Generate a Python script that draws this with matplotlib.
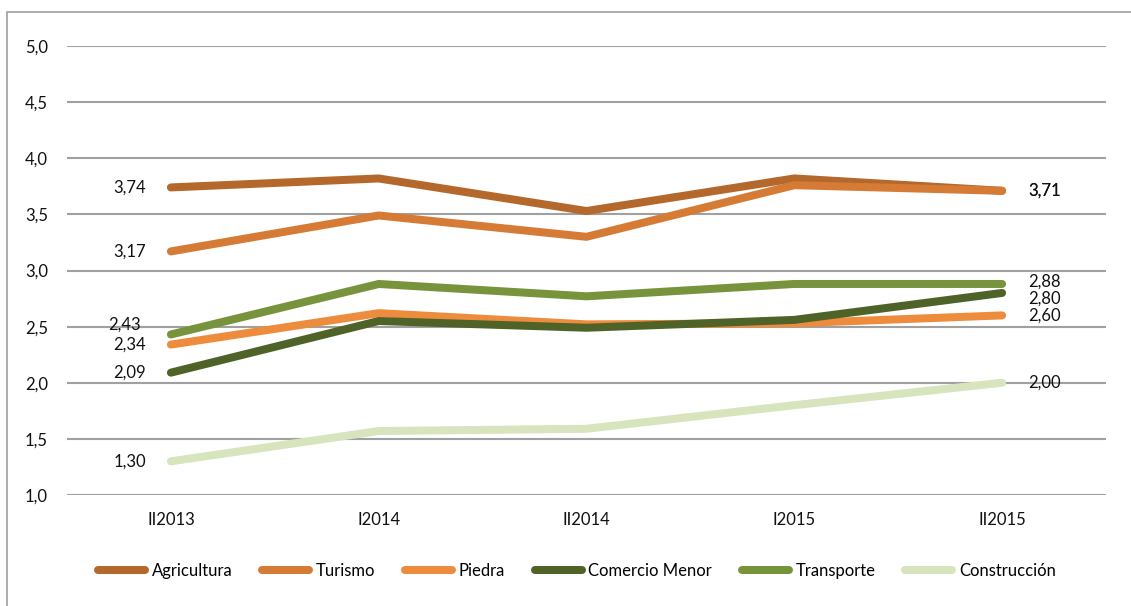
import matplotlib
matplotlib.use("Agg")
import matplotlib.pyplot as plt
from matplotlib.patches import Rectangle

periods = ["II2013", "I2014", "II2014", "I2015", "II2015"]
series_names = ["Agricultura", "Turismo", "Piedra", "Comercio Menor", "Transporte", "Construcción"]
agricultura = [3.74, 3.82, 3.53, 3.82, 3.71]
turismo = [3.17, 3.49, 3.30, 3.76, 3.71]
piedra = [2.34, 2.62, 2.52, 2.53, 2.60]
comercio = [2.09, 2.55, 2.49, 2.56, 2.80]
transporte = [2.43, 2.88, 2.77, 2.88, 2.88]
construccion = [1.30, 1.57, 1.59, 1.80, 2.00]
values = [agricultura, turismo, piedra, comercio, transporte, construccion]
colors = ["#B5682C", "#D57B35", "#EE8C3D", "#4F6228", "#77933C", "#D7E4BD"]
yticks = [1.0, 1.5, 2.0, 2.5, 3.0, 3.5, 4.0, 4.5, 5.0]

plt.rcParams['font.family'] = ['Lato', 'DejaVu Sans']

fig = plt.figure(figsize=(11.31, 6.06), dpi=100)
ax = fig.add_axes([67/1131, 1-495/606, (1106-67)/1131, (495-46)/606])

# outer chart border
fig.patches.append(Rectangle((7/1131, -0.05), 1.2, 1-12/606+0.05, transform=fig.transFigure,
                             fill=False, edgecolor="#A0A0A0", linewidth=1.2))

x = list(range(len(periods)))
lw = 8 * 0.72
for name, vals, c in zip(series_names, values, colors):
    ax.plot(x, vals, color=c, linewidth=lw, solid_capstyle='round', solid_joinstyle='round', label=name)

fs = 12
# data labels (first and last points)
left_offsets = {"Transporte": (-30, 10)}
right_offsets = {"Transporte": (26, 2), "Comercio Menor": (26, -6)}
for name, vals in zip(series_names, values):
    dx, dy = left_offsets.get(name, (-25, 0))
    ax.annotate(f"{vals[0]:.2f}".replace(".", ","), (x[0], vals[0]), xytext=(dx*0.72, dy*0.72),
                textcoords="offset points", ha="right", va="center", fontsize=fs, color="#111111")
    dx, dy = right_offsets.get(name, (26, 0))
    ax.annotate(f"{vals[-1]:.2f}".replace(".", ","), (x[-1], vals[-1]), xytext=(dx*0.72, dy*0.72),
                textcoords="offset points", ha="left", va="center", fontsize=fs, color="#111111")

ax.set_xlim(-0.5, len(periods)-0.5)
ax.set_ylim(1.0, 5.0)
ax.set_yticks(yticks)
ax.set_yticklabels([f"{v:.1f}".replace(".", ",") for v in yticks], fontsize=fs)
ax.set_xticks(x)
ax.set_xticklabels(periods, fontsize=fs)
ax.tick_params(axis='both', length=0, colors="#111111")
ax.tick_params(axis='y', pad=19*0.72)
ax.tick_params(axis='x', pad=17*0.72)
ax.grid(axis='y', color="#A0A0A0", linewidth=1.5)
ax.set_axisbelow(True)
for s in ax.spines.values():
    s.set_visible(False)

leg = fig.legend(loc='center', bbox_to_anchor=(577/1131, 1-571/606), ncol=6, frameon=False,
                 fontsize=fs, handlelength=2.8, handletextpad=0.4, columnspacing=1.8)
for h in leg.get_lines():
    h.set_solid_capstyle('round')

fig.savefig("out.png", dpi=100)
